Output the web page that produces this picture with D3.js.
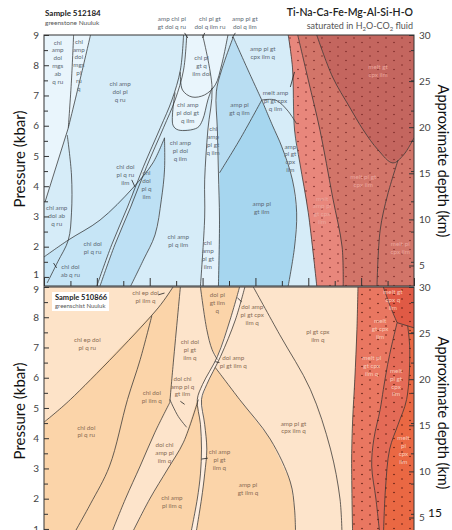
<!DOCTYPE html>
<html>
<head>
<meta charset="utf-8">
<script src="https://cdn.jsdelivr.net/npm/d3@7"></script>
<style>
  body { margin: 0; background: #fff; }
  text { font-family: Lato, "Open Sans", sans-serif; }
</style>
</head>
<body>
<div id="chart-area"></div>
<script>
// axes (T in degC, P in kbar)
const T_DOMAIN = [400, 750]
const T_TICKS = d3.range(400, 751, 25)
const P_DOMAIN = [0.7, 9]
const P_TICKS = d3.range(1, 10, 1)
const P_MINOR = d3.range(1.5, 9, 1)
const DEPTH_TICKS = [5, 10, 15, 20, 25, 30]
const KM_PER_KBAR = 3.28

// ---------- Sample 512184 ----------
const topFields = [
  { name: "chl amp dol mgs", pts: [[400,9],[444,9],[434,7.51],[423,5.93],[401,3.48],[400,3.48]] },
  { name: "chl dol pl q ru", pts: [[400,1.66],[423,2.22],[453,2.88],[484,3.94],[479,3.31],[464,2.06],[450,0.7],[400,0.7]] },
  { name: "chl dol pl q ilm", pts: [[484,3.94],[503,4.77],[514,5.6],[514,4.54],[511,3.55],[505,2.39],[494,1.56],[482,0.7],[453,0.7],[467,2.06],[482,3.31]] },
  { name: "chl pl gt q ilm dol", pts: [[535,9],[532,7.84],[529,7.78],[531,7.18],[540,6.95],[552,7.02],[562,7.35],[568,8.01],[574,9]] },
  { name: "chl amp pl dol gt q ilm", pts: [[527,7.4],[523,7.02],[522,6.02],[527,5.86],[545,5.93],[550,6.19],[555,6.85],[559,7.25],[552,7.02],[540,6.95],[531,7.18]] },
  { name: "chl amp pl gt q ilm", pts: [[559,7.25],[563,7.12],[564,5.86],[565,4.44],[566,2.88],[565,0.7],[548,0.7],[552,2.98],[552,4.21],[555,5.86]] },
  { name: "amp pl gt q ilm", pts: [[579,8.93],[593,7.84],[606,6.85],[585,5.53],[566,4.44],[564,5.86],[563,7.12],[568,7.84]] },
  { name: "amp pl gt ilm", pts: [[566,4.44],[585,5.53],[606,6.85],[616,6.02],[625,5.3],[635,4.21],[639,3.12],[637,1.99],[631,0.7],[565,0.7],[566,2.88]] },
  { name: "melt", pts: [[631,9],[750,9],[750,0.7],[658,0.7],[650,3.12],[642,4.77],[637,5.86],[635,7.94]] },
  { name: "melt pl gt cpx ilm", pts: [[640,9],[750,9],[750,0.7],[683,0.7],[682,1.99],[673,3.64],[661,5.86],[650,7.51]] },
  { name: "melt gt cpx ilm", pts: [[658,9],[750,9],[750,5.6],[740,5.03],[730,4.77],[716,5.2],[702,5.86],[689,6.62],[673,7.61]] }
]

const topLines = [
  [[428,9],[426,7.51],[423,5.93]],
  [[444,9],[434,7.51],[423,5.93]],
  [[423,5.93],[401,3.48]],
  [[422,5.69],[426,4.37],[426,3.12],[423,2.22],[413,1.5],[403,0.8]],
  [[400,1.66],[423,2.22],[453,2.88],[484,3.94],[503,4.77],[514,5.6]],
  [[450,0.7],[464,2.06],[479,3.31],[494,4.64],[510,5.93],[521,6.85],[529,7.84],[532,9]],
  [[453,0.7],[467,2.06],[482,3.31],[497,4.64],[513,5.93],[524,6.85],[532,7.84],[535,9]],
  [[514,5.6],[514,4.54],[511,3.55],[505,2.39],[494,1.56],[482,0.7]],
  [[529,7.78],[531,7.18],[540,6.95],[552,7.02],[562,7.35],[568,8.01],[574,9]],
  [[524,7.1],[522,6.02],[527,5.86],[545,5.93],[550,6.19],[555,6.85],[559,7.25]],
  [[550,9],[559,7.25],[555,5.86],[552,4.21],[552,2.98],[548,0.7]],
  [[579,8.93],[568,7.84],[563,7.12],[564,5.86],[565,4.44],[566,2.88],[565,0.7]],
  [[579,8.93],[593,7.84],[606,6.85]],
  [[606,6.85],[585,5.53],[566,4.44]],
  [[606,6.85],[616,6.02],[625,5.3],[635,4.21],[639,3.12],[637,1.99],[631,0.7]],
  [[606,6.85],[619,6.85],[630,6.52],[639,6.06]],
  [[631,9],[635,7.94],[637,5.86],[642,4.77],[650,3.12],[658,0.7]],
  [[640,9],[650,7.51],[661,5.86],[673,3.64],[682,1.99],[683,0.7]],
  [[658,9],[673,7.61],[689,6.62],[702,5.86],[716,5.2],[730,4.77],[740,5.03],[750,5.6]],
  [[735,4.87],[725,3.71],[718,2.55],[715,0.7]]
]

const topTicks = [
  [[533,9.07],[536,8.9]], [[552,9.07],[550,8.9]], [[581,9.07],[578,8.9]],
  [[483,4.21],[486,3.98]], [[409,1.46],[412,1.3]], [[637,7.78],[633,7.28]]
]

const topLabels = [
  { lines: ["chl","amp","dol","mgs","ab","q ru"], T: 413, P: 8.11 },
  { lines: ["chl","amp","dol","mgs","pl","ru","q"], T: 433, P: 8.01 },
  { lines: ["chl amp","dol pl","q ru"], T: 472, P: 7.12 },
  { lines: ["chl pl","gt q","ilm dol"], T: 549, P: 7.98 },
  { lines: ["chl amp","pl dol gt","q ilm"], T: 536, P: 6.42 },
  { lines: ["amp chl pl","gt dol q ru"], T: 521, P: 9.4 },
  { lines: ["chl pl gt","dol q ilm ru"], T: 557, P: 9.4 },
  { lines: ["amp pl gt","dol q ilm"], T: 590, P: 9.4 },
  { lines: ["amp pl gt","cpx ilm q"], T: 607, P: 8.4 },
  { lines: ["melt amp","pl gt cpx","q ilm"], T: 619, P: 6.82 },
  { lines: ["melt gt","cpx ilm"], T: 716, P: 7.81 },
  { lines: ["amp pl","gt q ilm"], T: 585, P: 6.55 },
  { lines: ["chl","amp","pl gt","q ilm"], T: 560, P: 5.5 },
  { lines: ["chl amp","pl dol","q ilm"], T: 529, P: 5.17 },
  { lines: ["chl dol","pl q ru","ilm"], T: 477, P: 4.37 },
  { lines: ["chl","dol","pl q","ilm"], T: 497, P: 4.04 },
  { lines: ["chl amp","dol ab","q ru"], T: 412, P: 3.02 },
  { lines: ["chl dol","pl q ru"], T: 446, P: 1.96 },
  { lines: ["chl dol","ab q ru"], T: 425, P: 1.2 },
  { lines: ["chl amp","pl q ilm"], T: 527, P: 2.19 },
  { lines: ["chl","amp","pl gt","ilm"], T: 555, P: 1.73 },
  { lines: ["amp pl","gt ilm"], T: 606, P: 3.28 },
  { lines: ["amp","pl gt","cpx","ilm"], T: 633, P: 4.93 },
  { lines: ["melt pl gt","cpx ilm"], T: 702, P: 4.17 },
  { lines: ["melt","amp pl","gt cpx","ilm"], T: 663, P: 3.21 },
  { lines: ["melt pl","cpx ilm"], T: 737, P: 1.96 }
]

// ---------- Sample 510866 ----------
const botFields = [
  { name: "chl ep dol pl q ru", pts: [[400,9],[522,9],[508,8.31],[425,5.28],[400,4.53]] },
  { name: "chl dol pl gt ilm q", pts: [[529,9],[548,9],[554,7.59],[559,6.93],[564,6.7],[550,5.78],[545,5.28],[532,3.87],[517,2.98],[500,1.99],[481,0.7],[462,0.7],[477,1.99],[491,3.08],[505,4.2],[519,5.18],[522,6.37]] },
  { name: "chl amp pl gt ilm q", pts: [[585,9],[576,7.91],[564,6.7],[550,5.78],[545,5.28],[548,4.46],[549,3.64],[548,2.82],[545,1.99],[538,0.7],[543,0.7],[549,1.99],[552,2.82],[554,3.64],[552,4.46],[549,5.28],[554,5.78],[567,6.7],[581,7.91],[590,9]] },
  { name: "amp pl gt cpx ilm q", pts: [[590,9],[598,9],[623,7.42],[652,5.61],[671,3.64],[680,1.99],[682,0.7],[638,0.7],[637,1.66],[633,2.55],[614,3.97],[585,5.28],[562,6.34],[567,6.7],[581,7.91]] },
  { name: "pl gt cpx ilm q", pts: [[598,9],[697,9],[696,7.59],[694,5.94],[692,4.63],[691,3.31],[692,0.7],[682,0.7],[680,1.99],[671,3.64],[652,5.61],[623,7.42]] },
  { name: "melt", pts: [[697,9],[750,9],[750,0.7],[692,0.7],[691,3.31],[692,4.63],[694,5.94],[696,7.59]] },
  { name: "melt pl gt cpx ilm", pts: [[734,7.82],[744,7.72],[746,6.93],[743,5.28],[735,4.46],[727,3.64],[723,2.32],[721,0.7],[718,0.7],[714,1.99],[710,3.08],[712,3.97],[718,4.95],[721,5.61],[725,6.43],[729,7.09]] },
  { name: "melt pl cpx ilm", pts: [[744,7.72],[750,7.65],[750,0.7],[721,0.7],[723,2.32],[727,3.64],[735,4.46],[743,5.28],[746,6.93]] },
  { name: "melt gt cpx q ilm", pts: [[721,9],[750,9],[750,7.65],[734,7.82],[727,8.41]] }
]

const botLines = [
  [[400,4.53],[425,5.28],[508,8.31],[522,9]],
  [[529,9],[522,6.37],[519,5.18]],
  [[548,9],[554,7.59],[559,6.93],[564,6.6]],
  [[585,9],[576,7.91],[564,6.7],[550,5.78],[545,5.28],[548,4.46],[549,3.64],[548,2.82],[545,1.99],[538,0.7]],
  [[590,9],[581,7.91],[567,6.7],[554,5.78],[549,5.28],[552,4.46],[554,3.64],[552,2.82],[549,1.99],[543,0.7]],
  [[598,9],[623,7.42],[652,5.61],[671,3.64],[680,1.99],[682,0.7]],
  [[562,6.34],[585,5.28],[614,3.97],[633,2.55],[637,1.66],[638,0.7]],
  [[502,8.05],[491,6.6],[479,5.28],[462,3.08],[444,1.83],[426,0.7]],
  [[519,5.18],[505,4.2],[491,3.08],[477,1.99],[462,0.7]],
  [[546,5.28],[532,3.87],[517,2.98],[500,1.99],[481,0.7]],
  [[519,5.28],[527,4.72],[535,4.36]],
  [[697,9],[696,7.59],[694,5.94],[692,4.63],[691,3.31],[692,0.7]],
  [[721,9],[727,8.41],[734,7.82]],
  [[734,7.82],[750,7.65]],
  [[734,7.82],[729,7.09],[725,6.43],[721,5.61],[718,4.95],[712,3.97],[710,3.08],[714,1.99],[718,0.7]],
  [[744,7.72],[746,6.93],[743,5.28],[735,4.46],[727,3.64],[723,2.32],[721,0.7]]
]

const botTicks = [
  [[508,8.74],[514,8.8]], [[583,8.64],[587,8.51]], [[562,6.53],[566,6.5]],
  [[549,3.31],[555,3.34]], [[529,5.22],[533,5.12]]
]

const botLabels = [
  { lines: ["chl ep dol","pl ilm q"], T: 496, P: 8.67 },
  { lines: ["chl ep dol","pl q ru"], T: 441, P: 7.12 },
  { lines: ["chl dol","pl ilm q"], T: 502, P: 5.38 },
  { lines: ["chl dol","pl gt","ilm q"], T: 538, P: 6.93 },
  { lines: ["dol chl","amp pl q","gt ilm"], T: 531, P: 5.71 },
  { lines: ["dol pl","gt ilm","q"], T: 564, P: 8.47 },
  { lines: ["dol amp","pl gt cpx","ilm q"], T: 597, P: 8.08 },
  { lines: ["dol amp","pl gt ilm q"], T: 579, P: 6.53 },
  { lines: ["pl gt cpx","ilm q"], T: 659, P: 7.39 },
  { lines: ["chl dol","pl q ru"], T: 440, P: 4.23 },
  { lines: ["dol chl","amp pl","ilm q"], T: 514, P: 3.51 },
  { lines: ["chl amp","pl gt","ilm q"], T: 566, P: 3.28 },
  { lines: ["amp pl","gt ilm q"], T: 593, P: 2.32 },
  { lines: ["chl amp","pl ilm q"], T: 521, P: 1.89 },
  { lines: ["amp pl gt","cpx ilm q"], T: 636, P: 4.36 },
  { lines: ["melt gt","cpx q","ilm"], T: 730, P: 8.57 },
  { lines: ["melt","gt cpx","ilm"], T: 718, P: 7.62 },
  { lines: ["melt pl","gt cpx","ilm q"], T: 710, P: 6.4 },
  { lines: ["melt","pl gt","cpx","ilm"], T: 733, P: 5.84 },
  { lines: ["melt","pl","cpx","ilm"], T: 740, P: 3.61 }
]

// ---------- colours ----------
const topColors = {
  base: "#d6ecf8",
  "chl amp dol mgs": "#e9f5fc",
  "chl dol pl q ru": "#c6e5f6",
  "chl dol pl q ilm": "#bde0f4",
  "chl pl gt q ilm dol": "#e9f5fc",
  "chl amp pl dol gt q ilm": "#e9f5fc",
  "chl amp pl gt q ilm": "#e3f2fb",
  "amp pl gt q ilm": "#b8ddf2",
  "amp pl gt ilm": "#a6d6ef",
  "melt": "#e8877c",
  "melt pl gt cpx ilm": "#d27569",
  "melt gt cpx ilm": "#c4665f"
}
const botColors = {
  base: "#fbd4a9",
  "chl ep dol pl q ru": "#fde3c8",
  "chl dol pl gt ilm q": "#fde4cb",
  "chl amp pl gt ilm q": "#feeee0",
  "amp pl gt cpx ilm q": "#fde4cb",
  "pl gt cpx ilm q": "#fde4cb",
  "melt": "#e97761",
  "melt pl gt cpx ilm": "#e46b57",
  "melt pl cpx ilm": "#ea6843",
  "melt gt cpx q ilm": "#e05a45"
}

const WIDTH = 452, HEIGHT = 530
const LEFT = 44, RIGHT = 414, PANEL_H = 251

const svg = d3.select("#chart-area").append("svg")
  .attr("width", WIDTH)
  .attr("height", HEIGHT)

const defs = svg.append("defs")

const x = d3.scaleLinear().domain(T_DOMAIN).range([LEFT, RIGHT])

function dots(id, color) {
  const p = defs.append("pattern")
    .attr("id", id)
    .attr("patternUnits", "userSpaceOnUse")
    .attr("width", 16).attr("height", 9)
  p.append("circle").attr("cx", 2).attr("cy", 2).attr("r", 0.8).attr("fill", color)
  p.append("circle").attr("cx", 10).attr("cy", 6.5).attr("r", 0.8).attr("fill", color)
}
dots("dotsTop", "#7d2b27")
dots("dotsBot", "#5e1c12")

function drawPanel(o) {
  const y = d3.scaleLinear().domain(P_DOMAIN).range([o.top + PANEL_H, o.top])
  const depth = p => 30 - (9 - p) * KM_PER_KBAR
  const yd = d3.scaleLinear().domain([depth(P_DOMAIN[0]), 30]).range([o.top + PANEL_H, o.top])

  defs.append("clipPath").attr("id", o.id + "-clip")
    .append("rect").attr("x", LEFT).attr("y", o.top).attr("width", RIGHT - LEFT).attr("height", PANEL_H)

  const g = svg.append("g")
  const plot = g.append("g").attr("clip-path", `url(#${o.id}-clip)`)

  plot.append("rect")
    .attr("x", LEFT).attr("y", o.top).attr("width", RIGHT - LEFT).attr("height", PANEL_H)
    .attr("fill", o.colors.base)

  const area = d3.line().x(d => x(d[0])).y(d => y(d[1])).curve(d3.curveLinearClosed)
  const curve = d3.line().x(d => x(d[0])).y(d => y(d[1])).curve(d3.curveCatmullRom.alpha(0.5))

  plot.selectAll("path.field").data(o.fields).enter().append("path")
    .attr("class", "field")
    .attr("d", d => area(d.pts))
    .attr("fill", d => o.colors[d.name])

  const melt = o.fields.find(d => d.name === "melt")
  plot.append("path").attr("d", area(melt.pts)).attr("fill", `url(#${o.dots})`)

  plot.selectAll("path.bound").data(o.lines).enter().append("path")
    .attr("class", "bound")
    .attr("d", d => curve(d))
    .attr("fill", "none")
    .attr("stroke", "#333")
    .attr("stroke-width", 0.75)

  g.selectAll("path.tick").data(o.ticks).enter().append("path")
    .attr("class", "tick")
    .attr("d", d => d3.line().x(p => x(p[0])).y(p => y(p[1]))(d))
    .attr("stroke", "#222").attr("stroke-width", 0.8)

  const lab = g.selectAll("text.field").data(o.labels).enter().append("text")
    .attr("class", "field")
    .attr("text-anchor", "middle")
    .attr("font-size", "6.3px")
    .attr("fill", d => d.T >= o.meltT ? o.meltText : o.text)
  lab.selectAll("tspan").data(d => d.lines.map((t, i) => ({ t, i, n: d.lines.length, d }))).enter()
    .append("tspan")
    .attr("x", e => x(e.d.T))
    .attr("y", e => y(e.d.P) + (e.i - (e.n - 1) / 2) * 7.8 + 2.2)
    .text(e => e.t)

  // frame + axes
  g.append("rect")
    .attr("x", LEFT).attr("y", o.top).attr("width", RIGHT - LEFT).attr("height", PANEL_H)
    .attr("fill", "none").attr("stroke", "#333").attr("stroke-width", 1)

  const tidy = s => { s.select(".domain").remove(); s.selectAll("line").attr("stroke", "#333"); s.selectAll("text").attr("fill", "#444").attr("font-size", "10px") }

  const left = g.append("g").attr("transform", `translate(${LEFT},0)`)
    .call(d3.axisLeft(y).tickValues(P_TICKS).tickSize(-5).tickPadding(5)).call(tidy)
  // keep the lowest label of the upper panel clear of the "9" below it
  left.selectAll("text").filter(d => d === o.nudge.value).attr("dy", o.nudge.dy)
  g.append("g").attr("transform", `translate(${LEFT},0)`)
    .call(d3.axisLeft(y).tickValues(P_MINOR).tickSize(-4).tickFormat("")).call(tidy)
  g.append("g").attr("transform", `translate(${RIGHT},0)`)
    .call(d3.axisRight(yd).tickValues(DEPTH_TICKS).tickSize(-5).tickPadding(5)).call(tidy)
  g.append("g").attr("transform", `translate(${RIGHT},0)`)
    .call(d3.axisRight(y).tickValues(P_MINOR).tickSize(-3).tickFormat("")).call(tidy)
  g.append("g").attr("transform", `translate(0,${o.top + PANEL_H})`)
    .call(d3.axisBottom(x).tickValues(T_TICKS.filter(t => t % 50 !== 0)).tickSize(-5).tickFormat("")).call(tidy)
  g.append("g").attr("transform", `translate(0,${o.top + PANEL_H})`)
    .call(d3.axisBottom(x).tickValues(T_TICKS.filter(t => t % 50 === 0)).tickSize(-8).tickFormat("")).call(tidy)

  g.append("text")
    .attr("transform", `translate(25,${o.top + 124}) rotate(-90)`)
    .attr("text-anchor", "middle").attr("font-size", "15px").attr("fill", "#111")
    .text("Pressure (kbar)")
  g.append("text")
    .attr("transform", `translate(438,${o.top + 126}) rotate(90)`)
    .attr("text-anchor", "middle").attr("font-size", "14.5px").attr("fill", "#111")
    .text("Approximate depth (km)")
  return g
}

drawPanel({ id: "top", top: 35, fields: topFields, lines: topLines, ticks: topTicks, labels: topLabels,
  colors: topColors, dots: "dotsTop", text: "#5d6b76", meltText: "#eba69d", meltT: 655,
  nudge: { value: 1, dy: "0.05em" } })
const gb = drawPanel({ id: "bot", top: 287, fields: botFields, lines: botLines, ticks: botTicks, labels: botLabels,
  colors: botColors, dots: "dotsBot", text: "#8a6d55", meltText: "#f8c9b8", meltT: 700,
  nudge: { value: 9, dy: "0.55em" } })

// titles
svg.append("text").attr("x", 45).attr("y", 16).attr("font-size", "8px").attr("font-weight", 700).attr("fill", "#222")
  .text("Sample 512184")
svg.append("text").attr("x", 45).attr("y", 24.5).attr("font-size", "6.5px").attr("fill", "#555")
  .text("greenstone Nuuluk")

svg.append("text").attr("x", 413).attr("y", 16).attr("text-anchor", "end")
  .attr("font-size", "10.5px").attr("font-weight", 600).attr("fill", "#222")
  .text("Ti-Na-Ca-Fe-Mg-Al-Si-H-O")
const sub = svg.append("text").attr("x", 413).attr("y", 28.5).attr("text-anchor", "end")
  .attr("font-size", "9px").attr("fill", "#555")
sub.append("tspan").text("saturated in H")
sub.append("tspan").attr("font-size", "6px").attr("dy", 2).text("2")
sub.append("tspan").attr("dy", -2).text("O-CO")
sub.append("tspan").attr("font-size", "6px").attr("dy", 2).text("2")
sub.append("tspan").attr("dy", -2).text(" fluid")

gb.append("rect").attr("x", 52).attr("y", 292).attr("width", 57).attr("height", 19).attr("fill", "#fff")
gb.append("text").attr("x", 55).attr("y", 300).attr("font-size", "7.5px").attr("font-weight", 700).attr("fill", "#222")
  .text("Sample 510866")
gb.append("text").attr("x", 55).attr("y", 307.5).attr("font-size", "6px").attr("fill", "#555")
  .text("greenschist Nuuluk")

svg.append("text").attr("x", 428).attr("y", 517).attr("font-size", "12px").attr("fill", "#111").text("15")
</script>
</body>
</html>
